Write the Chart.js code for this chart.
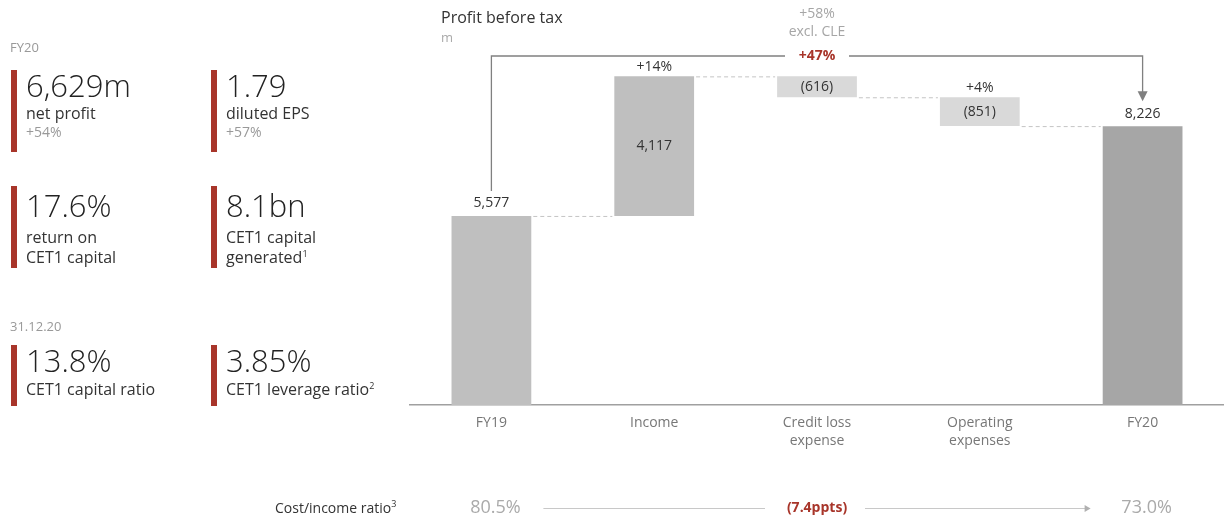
<!DOCTYPE html>
<html>
<head>
<meta charset="utf-8">
<script src="https://cdn.jsdelivr.net/npm/chart.js@4.4.0/dist/chart.umd.min.js"></script>
<style>
  body { margin: 0; background: #fff; font-family: "Open Sans", "Noto Sans", sans-serif; }
  #wrap { position: relative; width: 1224px; height: 522px; overflow: hidden; }
  #chart { position: absolute; left: 0; top: 0; }
  .kpi-head { position: absolute; left: 10px; font-size: 13px; color: #999; }
  .kpi { position: absolute; border-left: 6px solid #a8352a; padding-left: 9px; color: #222; box-sizing: border-box; }
  .kpi .big { font-size: 31px; line-height: 30px; font-weight: 300; }
  .kpi .lbl { font-size: 16px; line-height: 20px; color: #333; }
  .kpi .chg { font-size: 14px; line-height: 18px; color: #999; }
  sup { font-size: 9px; line-height: 0; vertical-align: 6px; }
  #cir { position: absolute; left: 275px; top: 498px; font-size: 14px; color: #333; }
</style>
</head>
<body>
<div id="wrap">
  <canvas id="chart" width="1224" height="522"></canvas>

  <div class="kpi-head" style="top:38px">FY20</div>
  <div class="kpi" style="left:11px;top:70px;height:82px">
    <div class="big">6,629m</div><div class="lbl" style="margin-top:3px">net profit</div><div class="chg">+54%</div>
  </div>
  <div class="kpi" style="left:211px;top:70px;height:82px">
    <div class="big">1.79</div><div class="lbl" style="margin-top:3px">diluted EPS</div><div class="chg">+57%</div>
  </div>
  <div class="kpi" style="left:11px;top:186px;height:82px;padding-top:4px">
    <div class="big">17.6%</div><div class="lbl" style="margin-top:7px">return on<br>CET1 capital</div>
  </div>
  <div class="kpi" style="left:211px;top:186px;height:82px;padding-top:4px">
    <div class="big">8.1bn</div><div class="lbl" style="margin-top:7px">CET1 capital<br>generated<sup>1</sup></div>
  </div>
  <div class="kpi-head" style="top:317px">31.12.20</div>
  <div class="kpi" style="left:11px;top:345px;height:61px">
    <div class="big">13.8%</div><div class="lbl" style="margin-top:4px">CET1 capital ratio</div>
  </div>
  <div class="kpi" style="left:211px;top:345px;height:61px">
    <div class="big">3.85%</div><div class="lbl" style="margin-top:4px">CET1 leverage ratio<sup>2</sup></div>
  </div>
  <div id="cir">Cost/income ratio<sup>3</sup></div>
</div>

<script>
// waterfall data (CHF m)
const categories = [["FY19"], ["Income"], ["Credit loss", "expense"], ["Operating", "expenses"], ["FY20"]];
const startValue = 5577;
const deltas = [4117, -616, -851];
const endValue = 8226;
const growthLabels = ["", "+14%", "", "+4%", ""];
const costIncome = ["80.5%", "(7.4ppts)", "73.0%"];
const pbtChange = ["+47%", "+58%", "excl. CLE"];

// floating bars built from the values
const bars = [[0, startValue]];
let running = startValue;
deltas.forEach(d => {
  bars.push([running, running + d]);
  running += d;
});
bars.push([0, endValue]);
const colors = ["#bfbfbf", "#bfbfbf", "#d9d9d9", "#d9d9d9", "#a6a6a6"];

const fmt = v => (v < 0 ? "(" + Math.abs(v).toLocaleString("en-US") + ")" : v.toLocaleString("en-US"));

const FONT = '"Open Sans", "Noto Sans", sans-serif';

const waterfallDeco = {
  id: "waterfallDeco",
  afterDatasetsDraw(chart) {
    const ctx = chart.ctx;
    const meta = chart.getDatasetMeta(0).data;
    const x = chart.scales.x;
    const area = chart.chartArea;
    const top = i => Math.min(meta[i].y, meta[i].base);
    const bot = i => Math.max(meta[i].y, meta[i].base);
    const half = meta[0].width / 2;

    ctx.save();
    ctx.textAlign = "center";
    ctx.textBaseline = "middle";

    // dashed connectors
    ctx.strokeStyle = "#c4c4c4";
    ctx.lineWidth = 1;
    ctx.setLineDash([4, 3]);
    for (let i = 0; i < meta.length - 1; i++) {
      const lvl = bars[i][1] >= bars[i][0] ? top(i) : bot(i);
      ctx.beginPath();
      ctx.moveTo(meta[i].x + half + 2, lvl + 0.5);
      ctx.lineTo(meta[i + 1].x - half - 2, lvl + 0.5);
      ctx.stroke();
    }
    ctx.setLineDash([]);

    // value labels
    ctx.font = "14px " + FONT;
    ctx.fillStyle = "#333";
    ctx.fillText(fmt(startValue), meta[0].x, top(0) - 13);
    ctx.fillText(fmt(endValue), meta[4].x, top(4) - 12);
    deltas.forEach((d, k) => {
      const i = k + 1;
      ctx.fillText(fmt(d), meta[i].x, (top(i) + bot(i)) / 2);
    });
    growthLabels.forEach((g, i) => {
      if (g) ctx.fillText(g, meta[i].x, top(i) - 9);
    });

    // bracket FY19 -> FY20
    const yb = area.top - 10;
    const xm = meta[2].x;
    ctx.strokeStyle = "#808080";
    ctx.lineWidth = 1.3;
    ctx.beginPath();
    ctx.moveTo(meta[0].x, top(0) - 25);
    ctx.lineTo(meta[0].x, yb);
    ctx.lineTo(xm - 32, yb);
    ctx.moveTo(xm + 32, yb);
    ctx.lineTo(meta[4].x, yb);
    ctx.lineTo(meta[4].x, top(4) - 33);
    ctx.stroke();
    ctx.fillStyle = "#808080";
    ctx.beginPath();
    ctx.moveTo(meta[4].x - 5, top(4) - 35);
    ctx.lineTo(meta[4].x + 5, top(4) - 35);
    ctx.lineTo(meta[4].x, top(4) - 25);
    ctx.closePath();
    ctx.fill();

    ctx.font = "bold 14px " + FONT;
    ctx.fillStyle = "#a8352a";
    ctx.fillText(pbtChange[0], xm, yb);
    ctx.font = "14px " + FONT;
    ctx.fillStyle = "#a6a6a6";
    ctx.fillText(pbtChange[1], xm, yb - 42);
    ctx.fillText(pbtChange[2], xm, yb - 24);

    // title
    ctx.textAlign = "left";
    ctx.fillStyle = "#333";
    ctx.font = "16px " + FONT;
    ctx.fillText("Profit before tax", 441, 18);
    ctx.fillStyle = "#aaa";
    ctx.font = "13px " + FONT;
    ctx.fillText("m", 441, 38);

    // cost / income ratio row
    const yr = 508;
    ctx.textAlign = "center";
    ctx.font = "18px " + FONT;
    ctx.fillStyle = "#aaa";
    ctx.fillText(costIncome[0], x.getPixelForValue(0) + 4, yr);
    ctx.fillText(costIncome[2], x.getPixelForValue(4) + 4, yr);
    ctx.font = "bold 14px " + FONT;
    ctx.fillStyle = "#a8352a";
    ctx.fillText(costIncome[1], xm, yr);
    ctx.strokeStyle = "#c8c8c8";
    ctx.lineWidth = 1;
    ctx.beginPath();
    ctx.moveTo(x.getPixelForValue(0) + 52, yr + 0.5);
    ctx.lineTo(xm - 52, yr + 0.5);
    ctx.moveTo(xm + 48, yr + 0.5);
    ctx.lineTo(x.getPixelForValue(4) - 54, yr + 0.5);
    ctx.stroke();
    ctx.fillStyle = "#b0b0b0";
    ctx.beginPath();
    const ax = x.getPixelForValue(4) - 52;
    ctx.moveTo(ax, yr + 0.5);
    ctx.lineTo(ax - 6, yr - 3);
    ctx.lineTo(ax - 6, yr + 4);
    ctx.closePath();
    ctx.fill();

    ctx.restore();
  }
};

new Chart(document.getElementById("chart"), {
  type: "bar",
  data: {
    labels: categories,
    datasets: [{
      data: bars,
      backgroundColor: colors,
      borderWidth: 0,
      barPercentage: 0.49,
      categoryPercentage: 1
    }]
  },
  options: {
    responsive: false,
    animation: false,
    layout: { padding: { left: 410, right: 0, top: 66, bottom: 0 } },
    plugins: { legend: { display: false }, tooltip: { enabled: false } },
    scales: {
      x: {
        grid: { display: false },
        border: { display: true, color: "#a0a0a0", width: 1.5 },
        ticks: { color: "#777", font: { size: 14, family: FONT, lineHeight: 1.3 }, padding: 1 },
        afterFit(scale) { scale.height = 117; }
      },
      y: {
        display: false,
        min: 0,
        max: 10000
      }
    }
  },
  plugins: [waterfallDeco]
});
</script>
</body>
</html>
